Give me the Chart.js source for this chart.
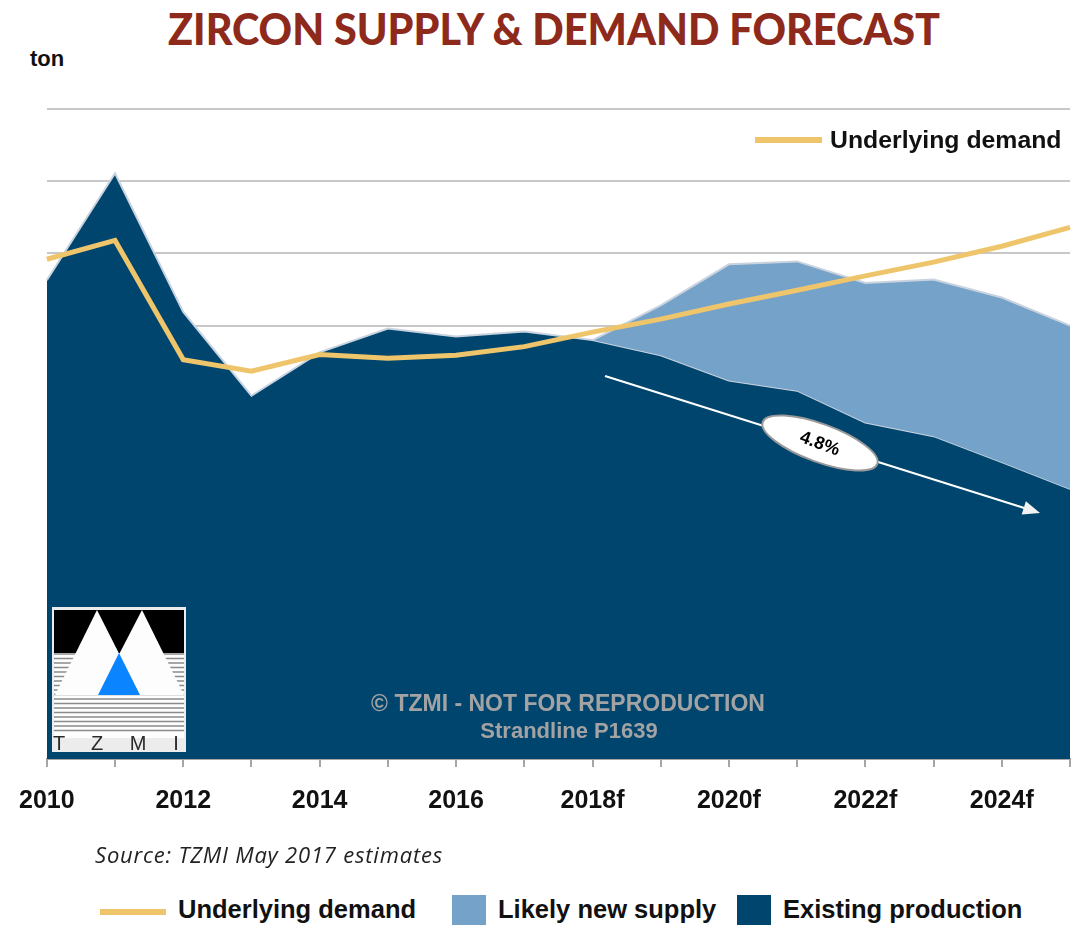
<!DOCTYPE html>
<html>
<head>
<meta charset="utf-8">
<script src="https://cdn.jsdelivr.net/npm/chart.js@4"></script>
<style>
  body { margin: 0; background: #fff; width: 1078px; height: 925px; position: relative; overflow: hidden; font-family: "Liberation Sans", Arial, sans-serif; }
  #wrap { position: absolute; left: 0; top: 0; width: 1089px; height: 840px; }
  .title { position: absolute; top: 2px; left: 0; width: 1108px; text-align: center; font-family: Lato, sans-serif; font-weight: 900; font-size: 44px; color: #8e2a1c; transform: scaleX(0.94); transform-origin: 554px 0; }
  .ton { position: absolute; left: 30px; top: 46px; font-weight: bold; font-size: 22px; color: #111; }
  .source { position: absolute; left: 95px; top: 839px; font-family: "Open Sans", sans-serif; font-style: italic; font-size: 22px; letter-spacing: 0.8px; color: #222; }
  .legend { position: absolute; top: 895px; left: 0; height: 34px; font-weight: bold; font-size: 25.5px; color: #111; }
  .legend span { position: absolute; white-space: nowrap; }
</style>
</head>
<body>
<div class="title">ZIRCON SUPPLY &amp; DEMAND FORECAST</div>
<div class="ton">ton</div>
<div id="wrap"><canvas id="c" width="1089" height="840"></canvas></div>
<div class="source">Source: TZMI May 2017 estimates</div>
<div class="legend">
  <span style="left:100px;top:14px;width:66px;height:6px;background:#eec56b"></span>
  <span style="left:178px;top:0">Underlying demand</span>
  <span style="left:452px;top:0;width:34px;height:34px;background:#75a2c9"></span>
  <span style="left:498px;top:0">Likely new supply</span>
  <span style="left:737px;top:0;width:34px;height:34px;background:#00456e"></span>
  <span style="left:783px;top:0">Existing production</span>
</div>
<script>
const years = ['2010', '2011', '2012', '2013', '2014', '2015', '2016', '2017',
  '2018f', '2019f', '2020f', '2021f', '2022f', '2023f', '2024f', '2025f'];
const existingProduction = [6.63, 8.11, 6.19, 5.03, 5.63, 5.96, 5.85, 5.92,
  5.80, 5.59, 5.24, 5.10, 4.66, 4.47, 4.11, 3.74];
// total supply incl. likely new projects (only from 2018f)
const likelyNewSupply = [null, null, null, null, null, null, null, null,
  5.80, 6.28, 6.85, 6.89, 6.59, 6.64, 6.39, 6.00];
const underlyingDemand = [6.92, 7.18, 5.53, 5.37, 5.60, 5.55, 5.59, 5.71,
  5.91, 6.09, 6.30, 6.49, 6.69, 6.88, 7.10, 7.36];

const darkBlue = '#00456e';
const lightBlue = '#75a2c9';
const yellow = '#eec56b';
const edge = '#c9d3df';

const extras = {
  id: 'extras',
  afterDatasetsDraw(chart) {
    const ctx = chart.ctx;
    ctx.save();

    // in-chart legend
    ctx.strokeStyle = yellow;
    ctx.lineWidth = 6;
    ctx.beginPath();
    ctx.moveTo(755, 140); ctx.lineTo(822, 140);
    ctx.stroke();
    ctx.fillStyle = '#111';
    ctx.font = 'bold 24.8px "Liberation Sans", Arial';
    ctx.textBaseline = 'middle';
    ctx.fillText('Underlying demand', 830, 141);

    // decline arrow
    const x0 = 605, y0 = 376, x1 = 1040, y1 = 513;
    const ang = Math.atan2(y1 - y0, x1 - x0);
    ctx.strokeStyle = '#fff';
    ctx.lineWidth = 2;
    ctx.beginPath();
    ctx.moveTo(x0, y0);
    ctx.lineTo(x1 - 14 * Math.cos(ang), y1 - 14 * Math.sin(ang));
    ctx.stroke();
    ctx.fillStyle = '#f2f2f2';
    ctx.beginPath();
    ctx.moveTo(x1, y1);
    ctx.lineTo(x1 - 17 * Math.cos(ang) + 7 * Math.sin(ang), y1 - 17 * Math.sin(ang) - 7 * Math.cos(ang));
    ctx.lineTo(x1 - 17 * Math.cos(ang) - 7 * Math.sin(ang), y1 - 17 * Math.sin(ang) + 7 * Math.cos(ang));
    ctx.closePath();
    ctx.fill();

    // 4.8% bubble
    ctx.translate(820, 443);
    ctx.rotate(0.35);
    ctx.beginPath();
    ctx.ellipse(0, 0, 61, 19, 0, 0, Math.PI * 2);
    ctx.fillStyle = '#fff';
    ctx.fill();
    ctx.strokeStyle = '#999';
    ctx.lineWidth = 2;
    ctx.stroke();
    ctx.fillStyle = '#000';
    ctx.font = 'bold 18px "Liberation Sans", Arial';
    ctx.textAlign = 'center';
    ctx.fillText('4.8%', 0, 1);
    ctx.setTransform(1, 0, 0, 1, 0, 0);

    // watermark
    ctx.fillStyle = '#a3a3a3';
    ctx.textAlign = 'center';
    ctx.font = 'bold 23px "Liberation Sans", Arial';
    ctx.fillText('\u00a9 TZMI - NOT FOR REPRODUCTION', 568, 705);
    ctx.font = 'bold 22px "Liberation Sans", Arial';
    ctx.fillText('Strandline P1639', 569, 732);

    // TZMI logo
    const L = 52, T = 607, R = 186, B = 752;
    ctx.fillStyle = '#ececec';
    ctx.fillRect(L, T, R - L, B - T);
    ctx.fillStyle = '#fdfdfd';
    ctx.fillRect(L + 2, T + 3, R - L - 4, 128);
    ctx.fillStyle = '#000';
    ctx.fillRect(L + 2, T + 3, R - L - 4, 43);
    ctx.strokeStyle = '#8a8a8a';
    ctx.lineWidth = 1.5;
    for (let y = 654; y <= 732; y += 4.5) {
      ctx.beginPath(); ctx.moveTo(L + 2, y); ctx.lineTo(R - 2, y); ctx.stroke();
    }
    ctx.fillStyle = '#fdfdfd';
    ctx.beginPath();
    ctx.moveTo(55, 695); ctx.lineTo(97, 610); ctx.lineTo(140, 695); ctx.closePath(); ctx.fill();
    ctx.beginPath();
    ctx.moveTo(98, 695); ctx.lineTo(142, 610); ctx.lineTo(184, 695); ctx.closePath(); ctx.fill();
    ctx.fillStyle = '#0a84ff';
    ctx.beginPath();
    ctx.moveTo(98, 695); ctx.lineTo(119, 653); ctx.lineTo(140, 695); ctx.closePath(); ctx.fill();
    ctx.fillStyle = '#2a2a2a';
    ctx.font = '20px "Liberation Sans", Arial';
    ctx.textAlign = 'center';
    ctx.fillText('T', 59, 744);
    ctx.fillText('Z', 97, 744);
    ctx.fillText('M', 138, 744);
    ctx.fillText('I', 176, 744);
    ctx.restore();
  }
};

new Chart(document.getElementById('c'), {
  type: 'line',
  data: {
    labels: years,
    datasets: [
      {
        label: 'Underlying demand',
        data: underlyingDemand,
        borderColor: yellow,
        borderWidth: 5,
        fill: false,
        pointRadius: 0,
        tension: 0,
        order: 0
      },
      {
        label: 'Likely new supply',
        data: likelyNewSupply,
        borderColor: edge,
        borderWidth: 2,
        backgroundColor: lightBlue,
        fill: '+1',
        pointRadius: 0,
        tension: 0,
        order: 1
      },
      {
        label: 'Existing production',
        data: existingProduction,
        borderColor: edge,
        borderWidth: 2,
        backgroundColor: darkBlue,
        fill: 'origin',
        pointRadius: 0,
        tension: 0,
        order: 2
      }
    ]
  },
  options: {
    responsive: false,
    animation: false,
    layout: { padding: { left: 45, right: 1, top: 109, bottom: 5 } },
    plugins: { legend: { display: false }, tooltip: { enabled: false } },
    scales: {
      x: {
        type: 'category',
        offset: false,
        grid: { drawOnChartArea: false, drawTicks: true, tickLength: 8, color: '#a6a6a6', lineWidth: 2 },
        border: { display: true, color: '#a6a6a6', width: 2 },
        ticks: {
          autoSkip: false,
          maxRotation: 0,
          padding: 19,
          color: '#111',
          font: { family: '"Liberation Sans", Arial', weight: 'bold', size: 25 },
          callback: (v, i) => (i % 2 === 0 ? years[i] : '')
        }
      },
      y: {
        min: 0,
        max: 9,
        grid: { color: '#c8c8c8', lineWidth: 2, drawTicks: false },
        border: { display: false },
        ticks: { display: false, stepSize: 1 }
      }
    }
  },
  plugins: [extras]
});
</script>
</body>
</html>
